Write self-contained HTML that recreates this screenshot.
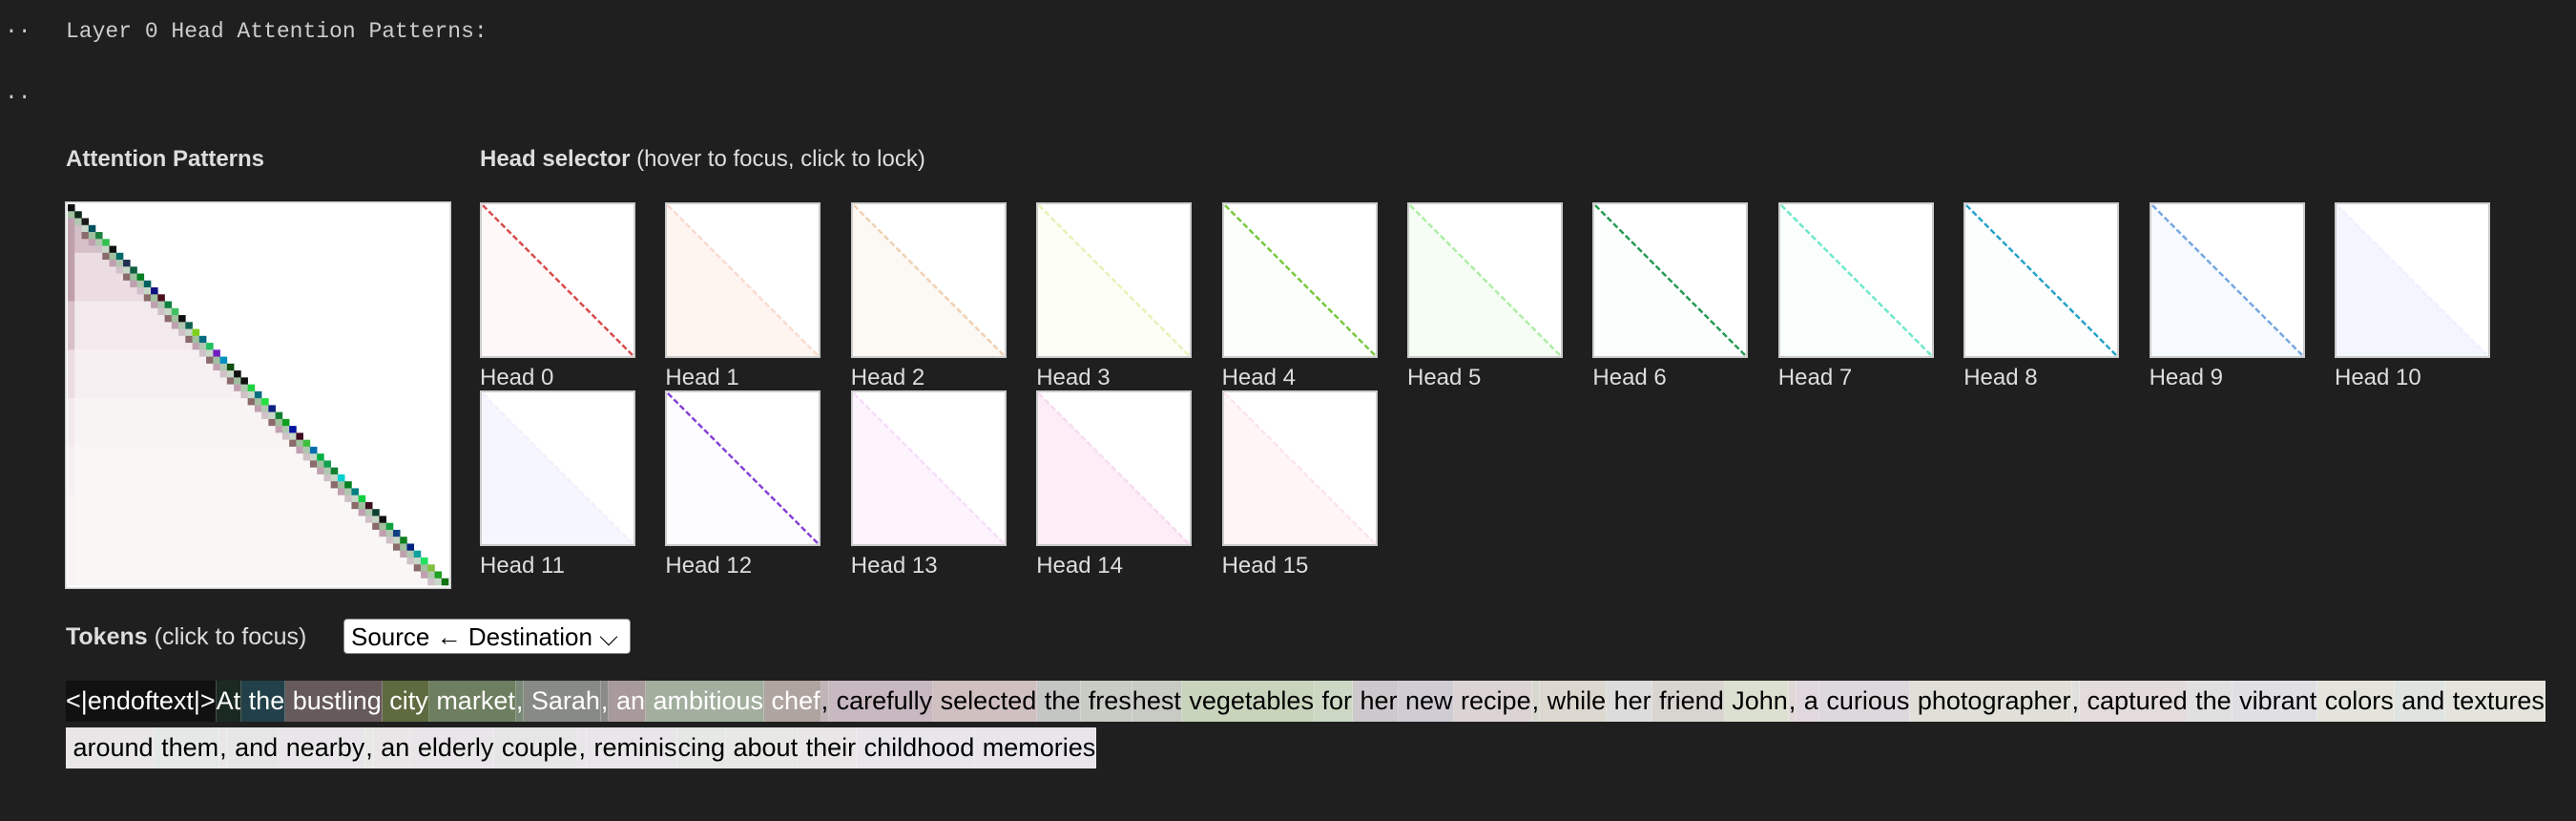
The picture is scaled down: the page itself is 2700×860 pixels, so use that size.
<!DOCTYPE html>
<html><head><meta charset="utf-8">
<style>
body{margin:0;background:#1f1f1f;width:2700px;height:860px;overflow:hidden;font-family:"Liberation Sans",sans-serif;color:#ddd;position:relative}
.abs{position:absolute}
.mono{font-family:"Liberation Mono",monospace;font-size:23px;color:#ccc}
.title{font-size:24px;color:#ddd}
.thumb{position:absolute;width:163px;height:163px}
.hlabel{position:absolute;font-size:24px;color:#ddd}
.row{position:absolute;left:69px;height:43px;display:flex;font-size:27px;line-height:43px;white-space:pre}
.tok{height:43px;border-right:1px solid rgba(255,255,255,0.25)}
</style></head><body>
<div class="abs mono" style="left:5px;top:20px">··</div>
<div class="abs mono" style="left:69px;top:20px">Layer 0 Head Attention Patterns:</div>
<div class="abs mono" style="left:5px;top:89px">··</div>
<div class="abs title" style="left:69px;top:153px;font-weight:bold">Attention Patterns</div>
<div class="abs title" style="left:503px;top:153px"><b>Head selector</b> (hover to focus, click to lock)</div>
<svg id="main" class="abs" style="left:68px;top:211px" width="405" height="406"></svg>
<div id="thumbs"></div>
<div class="abs" style="left:69px;top:653px;font-size:25px;color:#ddd"><b>Tokens</b> (click to focus)</div>
<div class="abs" style="left:360px;top:648px;width:301px;height:37px;background:#fff;border:1px solid #888;border-radius:4px;color:#000;font-size:26px;line-height:37px;padding-left:7px;box-sizing:border-box">Source ← Destination ⌵</div>
<div id="row1" class="row" style="top:713px"></div>
<div id="row2" class="row" style="top:762px"></div>
<script>
const tokens1=["<|endoftext|>","At"," the"," bustling"," city"," market",","," Sarah",","," an"," ambitious"," chef",","," carefully"," selected"," the"," fres","hest"," vegetables"," for"," her"," new"," recipe",","," while"," her"," friend"," John",","," a"," curious"," photographer",","," captured"," the"," vibrant"," colors"," and"," textures"];
const tokens2=[" around"," them",","," and"," nearby",","," an"," elderly"," couple",","," reminis","cing"," about"," their"," childhood"," memories"];
const tokColors1=["#111111","#1a2a22","#22404a","#665a5a","#5e6a40","#6e7e60","#7a8a78","#888a85","#8a8a88","#a89a9a","#a2ae9e","#b0a4a0","#c0b4b8","#c8b8c0","#d0c0c0","#c4c6c4","#c8ccc4","#c8cac4","#c8d4bc","#ccd8c4","#ccc8cc","#d0ccd4","#dcd4d4","#d8d8d0","#dcd8d0","#dcdcdc","#d8d4d0","#dce0d0","#e0d8d8","#e0d8dc","#dcd8dc","#e0e0d8","#e0e0dc","#e4dcdc","#e0e0e0","#e0e0e4","#e4e4dc","#e0e4e0","#e4e4dc"];
const tokColors2=["#e8e6e6","#e4e8e6","#e8e6e6","#e6e6e6","#e8e6e8","#e8e8e6","#e8e6e6","#e8e6e8","#e6e6e6","#e8e6e8","#e8e6e8","#e6e8e6","#e8e8e6","#e8e6e6","#e8e6ea"];
function fillRow(id,toks,cols,nWhite){
  const r=document.getElementById(id);
  toks.forEach((t,i)=>{const s=document.createElement('span');s.className='tok';s.textContent=t;
    s.style.background=cols[Math.min(i,cols.length-1)];s.style.color=i<nWhite?'#fff':'#000';
    
    
    r.appendChild(s);});
}
fillRow('row1',tokens1,tokColors1,12);
fillRow('row2',tokens2,tokColors2,0);

const N=55;
const diagColors=["#111111","#102818","#1a1a1a","#005060","#208040","#30c050","#111111","#006a6a","#203050","#106040","#008020","#006060","#101080","#4a1020","#108040","#40c060","#101010","#106050","#80d020","#006a80","#20c060","#7020c0","#0090c0","#105010","#101010","#101010","#20d040","#007080","#20e040","#102080","#108030","#10a020","#0010a0","#400a20","#40c040","#0070b0","#00b040","#10a050","#108030","#00d0d0","#008020","#008080","#10d040","#401020","#104030","#101010","#10a040","#104080","#108020","#002080","#10a0a0","#20e060","#80c040","#20a020","#107010"];
const nearDiag=["#8a6a6a","#a0c0a0","#c0a0b0","#b0c8b0","#d0c0c8","#c8d8c8"];
const offTint=["#c0a0a8","#d8c0c8","#ecdde2","#f3eaee","#f6f0f2","#f8f4f4","#f9f7f6"];
const svg=document.getElementById('main');
const NS='http://www.w3.org/2000/svg';
const pad=3, inner=399, cs=inner/N;
let bg=document.createElementNS(NS,'rect');
bg.setAttribute('x',0);bg.setAttribute('y',0);bg.setAttribute('width',405);bg.setAttribute('height',406);bg.setAttribute('fill','#fff');bg.setAttribute('stroke','#ccc');bg.setAttribute('stroke-width',3);
svg.appendChild(bg);
for(let i=0;i<N;i++){for(let j=0;j<=i;j++){
  const c=document.createElementNS(NS,'rect');
  let col;
  if(j===i) col=diagColors[i];
  else if(i-j<=2) col=nearDiag[(i+j)%nearDiag.length];
  else { const d=Math.min(offTint.length-1,Math.floor(i/7)); col = j===0? offTint[Math.max(0,d-1)] : offTint[Math.min(offTint.length-1,d+1)]; }
  c.setAttribute('x',pad+j*cs);c.setAttribute('y',pad+i*cs);c.setAttribute('width',cs+0.3);c.setAttribute('height',cs+0.3);c.setAttribute('fill',col);
  
  
  svg.appendChild(c);
}}

const headColors=["#d02020","#f08050","#d08030","#c8d840","#60c020","#60e050","#109040","#30e0b0","#1098c0","#2070d0","#90a8f0","#9090f0","#7020d0","#e070f0","#e050b0","#f07090"];
const headDiag=[0.8,0.25,0.35,0.35,0.85,0.5,0.9,0.7,0.9,0.6,0.1,0.08,0.85,0.2,0.15,0.15];
const headTint=[0.03,0.08,0.06,0.05,0.02,0.06,0.01,0.03,0.01,0.04,0.1,0.08,0.02,0.08,0.1,0.07];
const tc=document.getElementById('thumbs');
headColors.forEach((hc,h)=>{
  const r=Math.floor(h/11), c=h%11;
  const x=503+c*194.4, y=212+r*197;
  const s=document.createElementNS(NS,'svg');
  s.setAttribute('class','thumb');s.setAttribute('width',163);s.setAttribute('height',163);
  s.style.left=x+'px';s.style.top=y+'px';
  
  
  const w=159,o=2;
  s.innerHTML=`<rect x="1" y="1" width="161" height="161" fill="#fff" stroke="#ccc" stroke-width="2"/>
  <polygon points="${o},${o} ${o},${o+w} ${o+w},${o+w}" fill="${hc}" fill-opacity="${headTint[h]}"/>
  <line x1="${o+1}" y1="${o+1}" x2="${o+w-1}" y2="${o+w-1}" stroke="${hc}" stroke-opacity="${headDiag[h]}" stroke-width="2.5" stroke-dasharray="6 3"/>`;
  tc.appendChild(s);
  const l=document.createElement('div');l.className='hlabel';l.textContent='Head '+h;
  l.style.left=x+'px';l.style.top=(y+170)+'px';
  
  
  tc.appendChild(l);
});
</script>
</body></html>
